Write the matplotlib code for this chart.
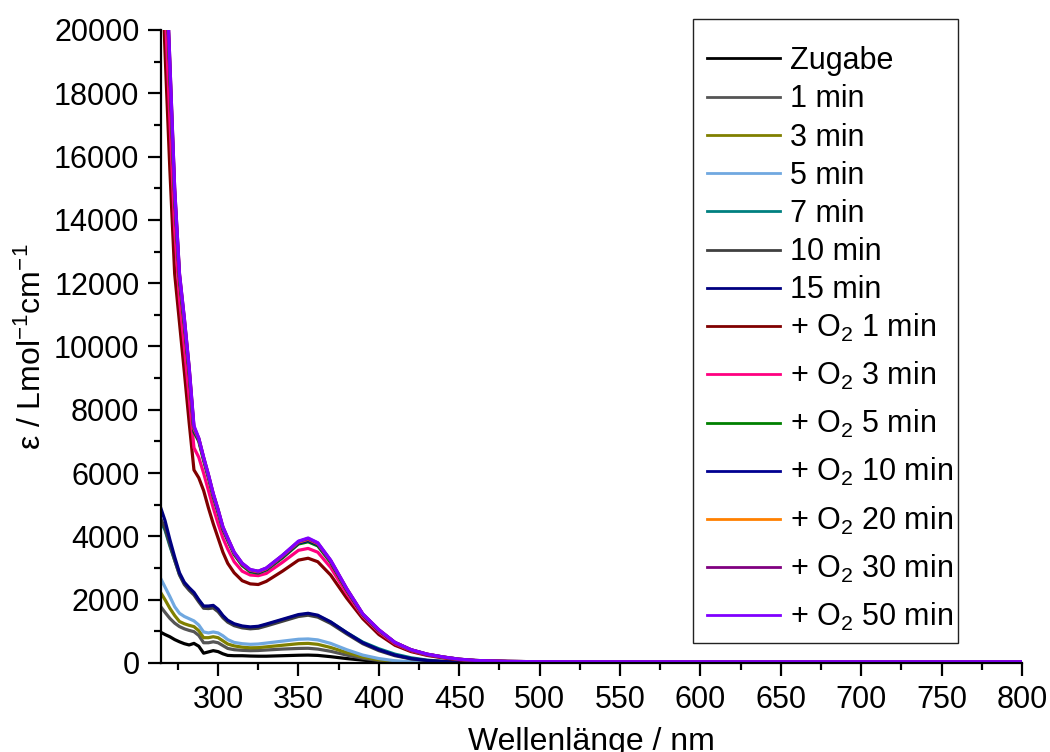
import matplotlib
matplotlib.use("Agg")
import matplotlib.pyplot as plt
from matplotlib.ticker import MultipleLocator
from matplotlib.patches import Rectangle

plt.rcParams['font.family'] = ['Liberation Sans', 'DejaVu Sans']
plt.rcParams['mathtext.fontset'] = 'custom'
plt.rcParams['mathtext.rm'] = 'Liberation Sans'
plt.rcParams['mathtext.it'] = 'Liberation Sans:italic'
plt.rcParams['mathtext.bf'] = 'Liberation Sans:bold'

# wavelength grid (nm)
wl = [264, 267, 270, 273, 276, 279, 282, 285, 288, 291, 294, 297, 300, 303, 306, 310,
      315, 320, 325, 330, 340, 350, 356, 362, 370, 380, 390, 400, 410, 420, 430, 440,
      450, 460, 480, 500, 550, 600, 650, 700, 750, 800]

zugabe = [980, 900, 830, 740, 670, 610, 570, 620, 530, 310, 350, 390, 360, 290, 240, 230,
          230, 220, 215, 215, 230, 245, 250, 240, 200, 140, 90, 50, 25, 15, 10, 8,
          8, 8, 8, 8, 8, 8, 8, 8, 8, 8]
min1 = [1800, 1600, 1410, 1260, 1150, 1080, 1030, 990, 870, 640, 640, 670, 640, 550, 460, 420,
        400, 390, 395, 410, 440, 460, 465, 440, 370, 250, 150, 80, 40, 22, 15, 12,
        10, 10, 10, 10, 10, 10, 10, 10, 10, 10]
min3 = [2250, 2000, 1730, 1500, 1310, 1240, 1190, 1150, 1020, 800, 800, 830, 800, 700, 600, 540,
        500, 480, 485, 510, 560, 610, 620, 590, 490, 330, 190, 100, 50, 28, 18, 14,
        12, 12, 12, 12, 12, 12, 12, 12, 12, 12]
min5 = [2700, 2400, 2100, 1780, 1570, 1470, 1400, 1330, 1200, 980, 950, 980, 950, 860, 740, 650,
        610, 590, 600, 630, 690, 750, 760, 730, 620, 420, 250, 140, 70, 40, 25, 18,
        15, 14, 14, 14, 14, 14, 14, 14, 14, 14]
min7 = [4500, 4200, 3700, 3250, 2800, 2520, 2350, 2200, 1980, 1780, 1770, 1790, 1670, 1480, 1330, 1220,
        1150, 1120, 1140, 1210, 1360, 1510, 1550, 1490, 1290, 960, 660, 450, 280, 165, 90, 52,
        34, 25, 20, 18, 16, 16, 16, 16, 16, 16]
min10 = [4600, 4250, 3750, 3250, 2780, 2480, 2300, 2150, 1930, 1730, 1720, 1740, 1620, 1430, 1290, 1180,
         1110, 1080, 1100, 1170, 1320, 1470, 1510, 1450, 1250, 920, 610, 390, 230, 130, 75, 42,
         28, 20, 16, 14, 12, 12, 12, 12, 12, 12]
min15 = [4950, 4500, 3900, 3350, 2850, 2550, 2380, 2230, 2000, 1800, 1800, 1820, 1700, 1500, 1350, 1240,
         1170, 1140, 1160, 1230, 1380, 1530, 1570, 1510, 1300, 960, 640, 420, 250, 140, 80, 45,
         30, 22, 18, 15, 15, 15, 15, 15, 15, 15]
o2_1 = [23500, 19300, 15600, 12300, 10750, 9200, 7600, 6100, 5850, 5450, 4900, 4400, 3950, 3500, 3150, 2850,
        2600, 2500, 2480, 2580, 2900, 3250, 3310, 3200, 2780, 2050, 1400, 900, 560, 360, 240, 160,
        100, 70, 45, 38, 35, 35, 35, 35, 35, 35]
o2_3 = [25000, 20800, 17200, 13700, 11500, 10000, 8400, 6800, 6500, 6000, 5450, 4900, 4400, 3950, 3600, 3200,
        2900, 2780, 2760, 2830, 3180, 3560, 3620, 3500, 3020, 2200, 1480, 980, 610, 390, 260, 175,
        110, 75, 48, 40, 36, 36, 36, 36, 36, 36]
o2_5 = [26800, 22500, 18600, 14700, 12100, 10700, 9150, 7300, 7000, 6400, 5850, 5250, 4750, 4220, 3870, 3430,
        3080, 2880, 2840, 2940, 3320, 3760, 3830, 3700, 3180, 2300, 1520, 1020, 640, 410, 270, 185,
        115, 78, 50, 40, 36, 36, 36, 36, 36, 36]
o2_10 = [27000, 22700, 18800, 14800, 12200, 10800, 9250, 7350, 7050, 6450, 5900, 5300, 4800, 4250, 3900, 3460,
         3110, 2910, 2860, 2960, 3350, 3790, 3870, 3740, 3210, 2320, 1530, 1030, 645, 415, 275, 188,
         118, 80, 50, 40, 36, 36, 36, 36, 36, 36]
o2_20 = [27200, 22800, 18900, 14900, 12250, 10850, 9300, 7400, 7080, 6480, 5930, 5330, 4830, 4280, 3930, 3480,
         3130, 2930, 2880, 2980, 3380, 3820, 3910, 3770, 3230, 2340, 1540, 1040, 648, 418, 278, 190,
         119, 80, 50, 40, 37, 37, 37, 37, 37, 37]
o2_30 = [27400, 22900, 19000, 15000, 12300, 10900, 9350, 7450, 7100, 6500, 5950, 5350, 4850, 4300, 3950, 3500,
         3150, 2950, 2900, 3000, 3400, 3840, 3930, 3790, 3240, 2350, 1550, 1050, 650, 420, 280, 190,
         120, 80, 50, 40, 37, 37, 37, 37, 37, 37]
o2_50 = [27500, 23000, 19000, 15000, 12300, 10900, 9350, 7500, 7100, 6500, 5950, 5350, 4850, 4300, 3950, 3500,
         3150, 2950, 2900, 3000, 3400, 3850, 3950, 3800, 3250, 2350, 1550, 1050, 650, 420, 280, 190,
         120, 80, 50, 40, 37, 37, 37, 37, 37, 37]

labels = ["Zugabe", "1 min", "3 min", "5 min", "7 min", "10 min", "15 min",
          "+ O$_\\mathregular{2}$ 1 min", "+ O$_\\mathregular{2}$ 3 min", "+ O$_\\mathregular{2}$ 5 min",
          "+ O$_\\mathregular{2}$ 10 min", "+ O$_\\mathregular{2}$ 20 min", "+ O$_\\mathregular{2}$ 30 min",
          "+ O$_\\mathregular{2}$ 50 min"]
series = [zugabe, min1, min3, min5, min7, min10, min15,
          o2_1, o2_3, o2_5, o2_10, o2_20, o2_30, o2_50]
colors = ["#000000", "#555555", "#808000", "#70A8E0", "#008080", "#404040", "#000080",
          "#800000", "#FF0080", "#008000", "#000090", "#FF8000", "#800080", "#8000FF"]

W, H = 1050, 752
fig = plt.figure(figsize=(W / 100, H / 100), dpi=100)
ax = fig.add_axes([161 / W, 1 - 663 / H, (1022 - 161) / W, (663 - 30) / H])

lines = []
for y, c, lab in zip(series, colors, labels):
    ln, = ax.plot(wl, y, color=c, lw=2.3, label=lab, solid_joinstyle='round')
    lines.append(ln)

ax.set_xlim(264.5, 800)
ax.set_ylim(0, 20000)
ax.xaxis.set_major_locator(MultipleLocator(50))
ax.xaxis.set_minor_locator(MultipleLocator(25))
ax.yaxis.set_major_locator(MultipleLocator(2000))
ax.yaxis.set_minor_locator(MultipleLocator(1000))

for s in ['top', 'right']:
    ax.spines[s].set_visible(False)
for s in ['left', 'bottom']:
    ax.spines[s].set_linewidth(1.6)

ax.tick_params(axis='both', which='major', direction='out', length=9.5, width=1.6,
               labelsize=22, pad=6)
ax.tick_params(axis='both', which='minor', direction='out', length=5, width=1.6)

ax.set_xlabel("Wellenlänge / nm", fontsize=23, labelpad=9)
ax.set_ylabel("ε / Lmol$^{\\mathregular{-1}}$cm$^{\\mathregular{-1}}$", fontsize=23, labelpad=4)

common = dict(loc='upper left', fontsize=22, frameon=False, handlelength=2.4,
              handletextpad=0.33, borderpad=0, borderaxespad=0)
leg1 = fig.legend(lines[:7], labels[:7], bbox_to_anchor=(707 / W, 1 - 46 / H),
                  labelspacing=0.27, **common)
leg2 = fig.legend(lines[7:], labels[7:], bbox_to_anchor=(707 / W, 1 - 312 / H),
                  labelspacing=0.524, **common)
for lg in (leg1, leg2):
    for h in lg.get_lines():
        h.set_linewidth(2.0)

frame = Rectangle((693 / W, 1 - 643 / H), (958 - 693) / W, (643 - 19) / H,
                  transform=fig.transFigure, fill=True, facecolor='white',
                  edgecolor='#222222', lw=1.0, zorder=0)
fig.patches.append(frame)

fig.savefig("out.png", dpi=100)
